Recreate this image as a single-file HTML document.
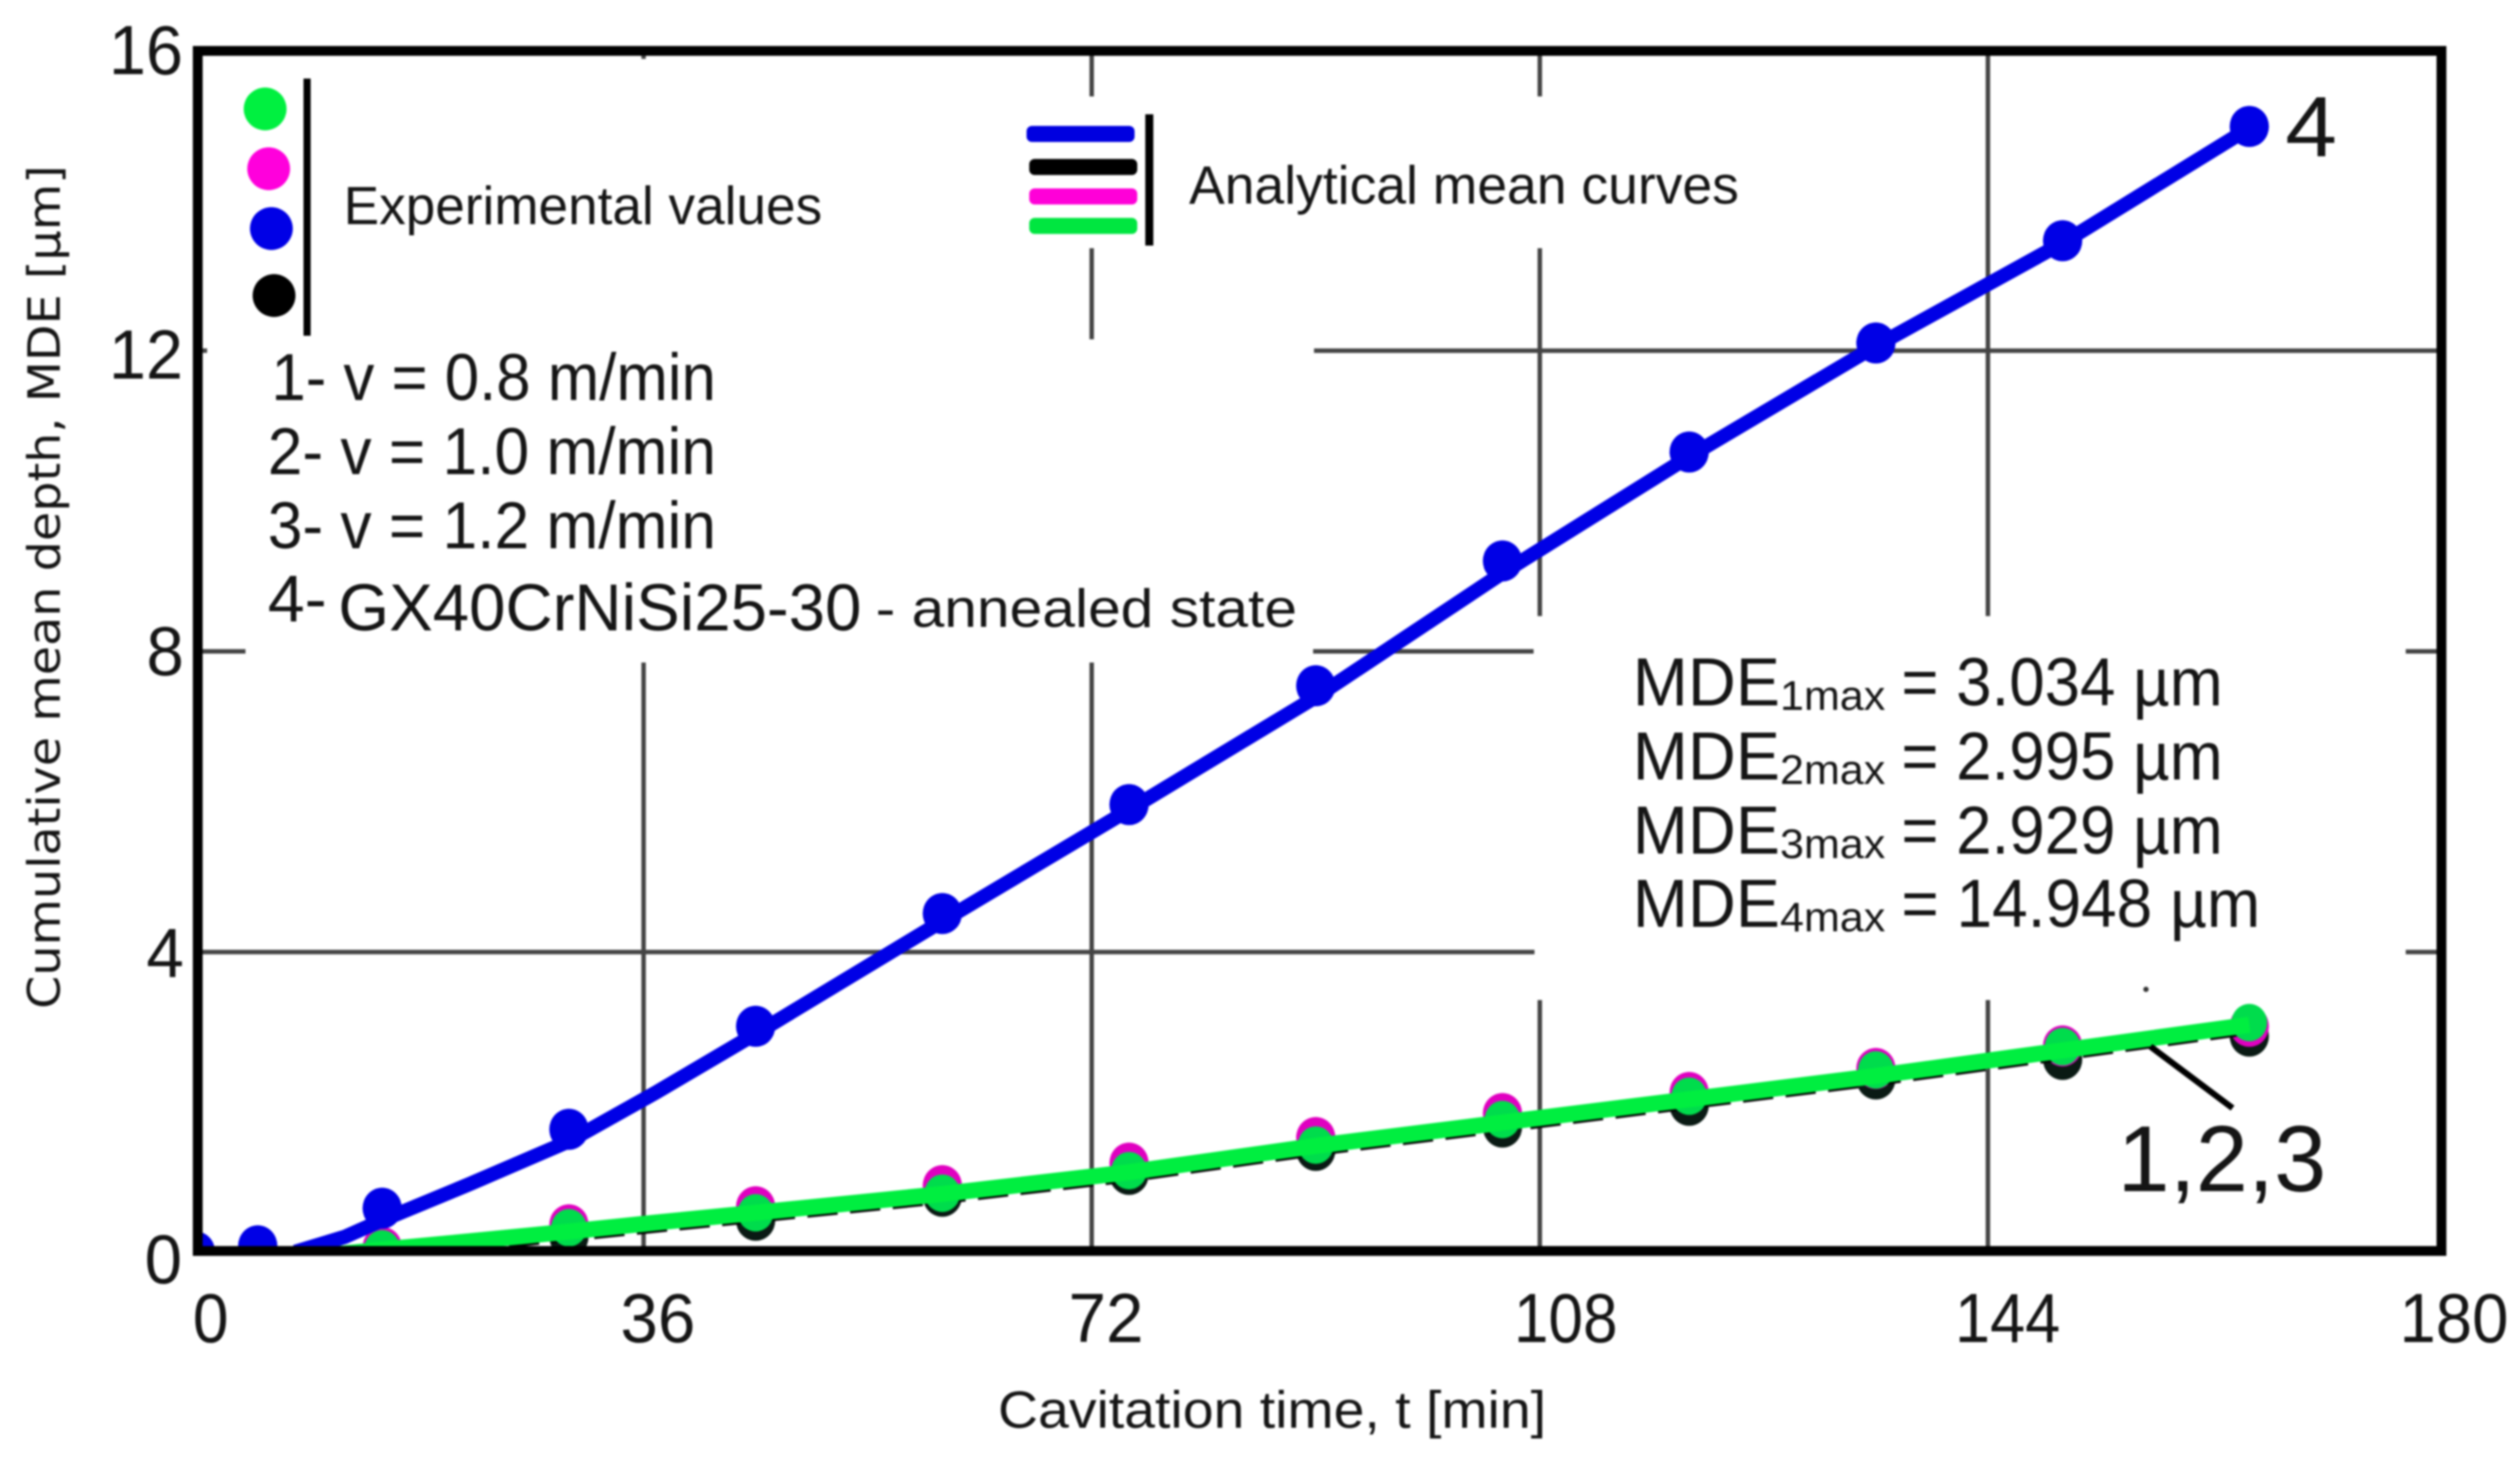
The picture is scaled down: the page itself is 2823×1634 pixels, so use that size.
<!DOCTYPE html>
<html lang="en">
<head>
<meta charset="utf-8">
<title>Cumulative mean depth vs cavitation time</title>
<style>
html,body{margin:0;padding:0;background:#fff;}
body{width:2823px;height:1634px;overflow:hidden;}
svg{display:block;filter:blur(1px);}
text{font-family:"Liberation Sans",sans-serif;fill:#151515;}
</style>
</head>
<body>
<svg id="chart" xmlns="http://www.w3.org/2000/svg" width="2823" height="1634" viewBox="0 0 2823 1634">
  <rect x="0" y="0" width="2823" height="1634" fill="#fff"/>
  <defs><clipPath id="plot-clip"><rect x="221" y="57" width="2514" height="1344"/></clipPath></defs>
  <g id="grid"></g>
  <g id="marks" clip-path="url(#plot-clip)"></g>
  <rect x="221.5" y="57" width="2513.5" height="1344" fill="none" stroke="#000" stroke-width="11"/>

  <g font-size="78">
    <text x="122" y="83" textLength="83" lengthAdjust="spacingAndGlyphs">16</text>
    <text x="122" y="424" textLength="83" lengthAdjust="spacingAndGlyphs">12</text>
    <text x="164" y="756" textLength="42" lengthAdjust="spacingAndGlyphs">8</text>
    <text x="164" y="1094" textLength="42" lengthAdjust="spacingAndGlyphs">4</text>
    <text x="162" y="1437" textLength="42" lengthAdjust="spacingAndGlyphs">0</text>
  </g>
  <g font-size="78">
    <text x="216" y="1503" textLength="40" lengthAdjust="spacingAndGlyphs">0</text>
    <text x="695" y="1503" textLength="84" lengthAdjust="spacingAndGlyphs">36</text>
    <text x="1197" y="1503" textLength="84" lengthAdjust="spacingAndGlyphs">72</text>
    <text x="1696" y="1503" textLength="116" lengthAdjust="spacingAndGlyphs">108</text>
    <text x="2190" y="1503" textLength="118" lengthAdjust="spacingAndGlyphs">144</text>
    <text x="2688" y="1503" textLength="122" lengthAdjust="spacingAndGlyphs">180</text>
  </g>

  <text x="1118" y="1599" font-size="58" textLength="614" lengthAdjust="spacingAndGlyphs">Cavitation time, t [min]</text>
  <text transform="translate(67,1130) rotate(-90)" x="0" y="0" font-size="50" textLength="945" lengthAdjust="spacingAndGlyphs" style="font-family:'DejaVu Sans','Liberation Sans',sans-serif">Cumulative mean depth, MDE [µm]</text>

  <g>
    <ellipse cx="297" cy="122" rx="24" ry="24" fill="#00f040"/>
    <ellipse cx="301" cy="189" rx="24" ry="24" fill="#ff00dc"/>
    <ellipse cx="304" cy="256" rx="24" ry="24" fill="#0000e6"/>
    <ellipse cx="307" cy="331" rx="24" ry="24" fill="#000"/>
    <rect x="340" y="88" width="8" height="288" fill="#000"/>
    <text x="385" y="251" font-size="60" textLength="536" lengthAdjust="spacingAndGlyphs">Experimental values</text>
  </g>

  <g>
    <rect x="1150" y="141" width="121" height="18" rx="6" fill="#0000e0"/>
    <rect x="1153" y="178" width="121" height="18" rx="6" fill="#000"/>
    <rect x="1153" y="211" width="121" height="18" rx="6" fill="#ff00d8"/>
    <rect x="1153" y="244" width="121" height="18" rx="6" fill="#00e640"/>
    <rect x="1283" y="128" width="9" height="147" fill="#000"/>
    <text x="1332" y="228" font-size="60" textLength="616" lengthAdjust="spacingAndGlyphs">Analytical mean curves</text>
  </g>

  <g font-size="74">
    <text x="304" y="448" textLength="498" lengthAdjust="spacingAndGlyphs">1- v = 0.8 m/min</text>
    <text x="300" y="531" textLength="502" lengthAdjust="spacingAndGlyphs">2- v = 1.0 m/min</text>
    <text x="300" y="614" textLength="502" lengthAdjust="spacingAndGlyphs">3- v = 1.2 m/min</text>
    <text x="300" y="696" textLength="66" lengthAdjust="spacingAndGlyphs">4-</text>
    <text x="379" y="706" textLength="586" lengthAdjust="spacingAndGlyphs">GX40CrNiSi25-30</text>
    <text x="981" y="702" font-size="60" textLength="472" lengthAdjust="spacingAndGlyphs">- annealed state</text>
  </g>

  <g font-size="76">
    <text x="1829" y="790" textLength="165" lengthAdjust="spacingAndGlyphs">MDE</text>
    <text x="1994" y="795" font-size="46" textLength="118" lengthAdjust="spacingAndGlyphs">1max</text>
    <text x="2130" y="790" textLength="360" lengthAdjust="spacingAndGlyphs">= 3.034 µm</text>
    <text x="1829" y="873" textLength="165" lengthAdjust="spacingAndGlyphs">MDE</text>
    <text x="1994" y="878" font-size="46" textLength="118" lengthAdjust="spacingAndGlyphs">2max</text>
    <text x="2130" y="873" textLength="360" lengthAdjust="spacingAndGlyphs">= 2.995 µm</text>
    <text x="1829" y="956" textLength="165" lengthAdjust="spacingAndGlyphs">MDE</text>
    <text x="1994" y="961" font-size="46" textLength="118" lengthAdjust="spacingAndGlyphs">3max</text>
    <text x="2130" y="956" textLength="360" lengthAdjust="spacingAndGlyphs">= 2.929 µm</text>
    <text x="1829" y="1038" textLength="165" lengthAdjust="spacingAndGlyphs">MDE</text>
    <text x="1994" y="1043" font-size="46" textLength="118" lengthAdjust="spacingAndGlyphs">4max</text>
    <text x="2130" y="1038" textLength="402" lengthAdjust="spacingAndGlyphs">= 14.948 µm</text>
  </g>

  <text x="2560" y="175" font-size="96" textLength="58" lengthAdjust="spacingAndGlyphs">4</text>
  <line x1="2409" y1="1172" x2="2501" y2="1241" stroke="#000" stroke-width="7"/>
  <text x="2372" y="1334" font-size="105" textLength="234" lengthAdjust="spacingAndGlyphs">1,2,3</text>
  <circle cx="2404" cy="1108" r="3" fill="#333"/>
</svg>
<script>
// Chart data (minutes and micrometres)
var times = [0, 5, 15, 30, 45, 60, 75, 90, 105, 120, 135, 150, 165];
var xGridTicks = [36, 72, 108, 144];
var yGridTicks = [4, 8, 12];

var markersBlue = [0, 0.08, 0.58, 1.63, 3.0, 4.5, 5.95, 7.53, 9.19, 10.64, 12.09, 13.45, 14.97];
var markersBlack = [null, null, 0.02, 0.2, 0.42, 0.74, 1.03, 1.35, 1.66, 1.95, 2.3, 2.56, 2.87];
var markersMagenta = [null, null, 0.06, 0.36, 0.6, 0.88, 1.18, 1.52, 1.84, 2.12, 2.44, 2.74, 3.0];
var markersGreen = [null, null, 0.04, 0.32, 0.52, 0.78, 1.08, 1.42, 1.76, 2.07, 2.42, 2.73, 3.05];

var curveTimes = [8, 12, 15, 22, 30, 37, 45, 60, 75, 90, 105, 120, 135, 150, 165];
var curveBlue = [0, 0.2, 0.42, 0.9, 1.47, 2.12, 2.9, 4.4, 5.88, 7.38, 9.03, 10.58, 12.05, 13.42, 14.95];
var curveBlack = [-0.1, -0.07, -0.04, 0.07, 0.2, 0.32, 0.45, 0.7, 0.99, 1.34, 1.65, 1.96, 2.27, 2.61, 2.95];
var curveMagenta = [0, 0.03, 0.08, 0.19, 0.32, 0.44, 0.57, 0.82, 1.11, 1.46, 1.77, 2.08, 2.39, 2.73, 3.07];
var curveGreen = [-0.05, -0.02, 0.03, 0.14, 0.27, 0.39, 0.52, 0.77, 1.06, 1.41, 1.72, 2.03, 2.34, 2.68, 3.02];

var SVG_NS = 'http://www.w3.org/2000/svg';
function xScale(t) { return 219 + t * 13.944; }
function yScale(v) { return 1402 - v * 84.19; }

var gridGroup = document.getElementById('grid');
var marksGroup = document.getElementById('marks');

function gridSegment(x1, y1, x2, y2) {
  var ln = document.createElementNS(SVG_NS, 'line');
  
  
  ln.setAttribute('x1', x1);
  ln.setAttribute('y1', y1);
  ln.setAttribute('x2', x2);
  ln.setAttribute('y2', y2);
  ln.setAttribute('stroke', '#444');
  ln.setAttribute('stroke-width', '5');
  gridGroup.appendChild(ln);
}

var xGridGaps = [
  [[57, 66], [742, 1401]],
  [[57, 108], [278, 380], [742, 1401]],
  [[57, 108], [278, 690], [1120, 1401]],
  [[57, 690], [1120, 1401]]
];
var yGridGaps = [
  [[221, 1719], [2695, 2735]],
  [[221, 275], [1471, 1718], [2695, 2735]],
  [[221, 232], [1472, 2735]]
];
xGridTicks.forEach(function (t, i) {
  xGridGaps[i].forEach(function (s) { gridSegment(xScale(t), s[0], xScale(t), s[1]); });
});
yGridTicks.forEach(function (v, i) {
  yGridGaps[i].forEach(function (s) { gridSegment(s[0], yScale(v) + 1, s[1], yScale(v) + 1); });
});

function drawCurve(xs, ys, color, width, name, dash) {
  var pl = document.createElementNS(SVG_NS, 'polyline');
  
  
  var pts = xs.map(function (t, i) { return xScale(t).toFixed(1) + ',' + yScale(ys[i]).toFixed(1); });
  pl.setAttribute('points', pts.join(' '));
  pl.setAttribute('fill', 'none');
  pl.setAttribute('stroke', color);
  pl.setAttribute('stroke-width', width);
  pl.setAttribute('stroke-linejoin', 'round');
  if (dash) pl.setAttribute('stroke-dasharray', dash);
  marksGroup.appendChild(pl);
}

function drawMarkers(values, color, name, rx, ry) {
  values.forEach(function (v, i) {
    if (v === null) return;
    var m = document.createElementNS(SVG_NS, 'ellipse');
    
    
    m.setAttribute('cx', xScale(times[i]));
    m.setAttribute('cy', yScale(v));
    m.setAttribute('rx', rx);
    m.setAttribute('ry', ry);
    m.setAttribute('fill', color);
    marksGroup.appendChild(m);
  });
}

drawMarkers(markersBlack, '#0a1a14', 'marker-series-3', 22, 23);
drawMarkers(markersMagenta, '#e000c0', 'marker-series-2', 22, 23);
drawCurve(curveTimes, curveBlack, '#000', 11, 'curve-series-3', '34 14');
drawCurve(curveTimes, curveMagenta, '#f070d8', 9, 'curve-series-2', '60 14');
drawMarkers(markersGreen, '#00dc4c', 'marker-series-1', 20, 21);
drawCurve(curveTimes, curveGreen, '#00ee40', 18, 'curve-series-1');
drawMarkers(markersBlue, '#0000e6', 'marker-series-4', 22, 23);
drawCurve(curveTimes, curveBlue, '#0000e6', 16, 'curve-series-4');
</script>
</body>
</html>
